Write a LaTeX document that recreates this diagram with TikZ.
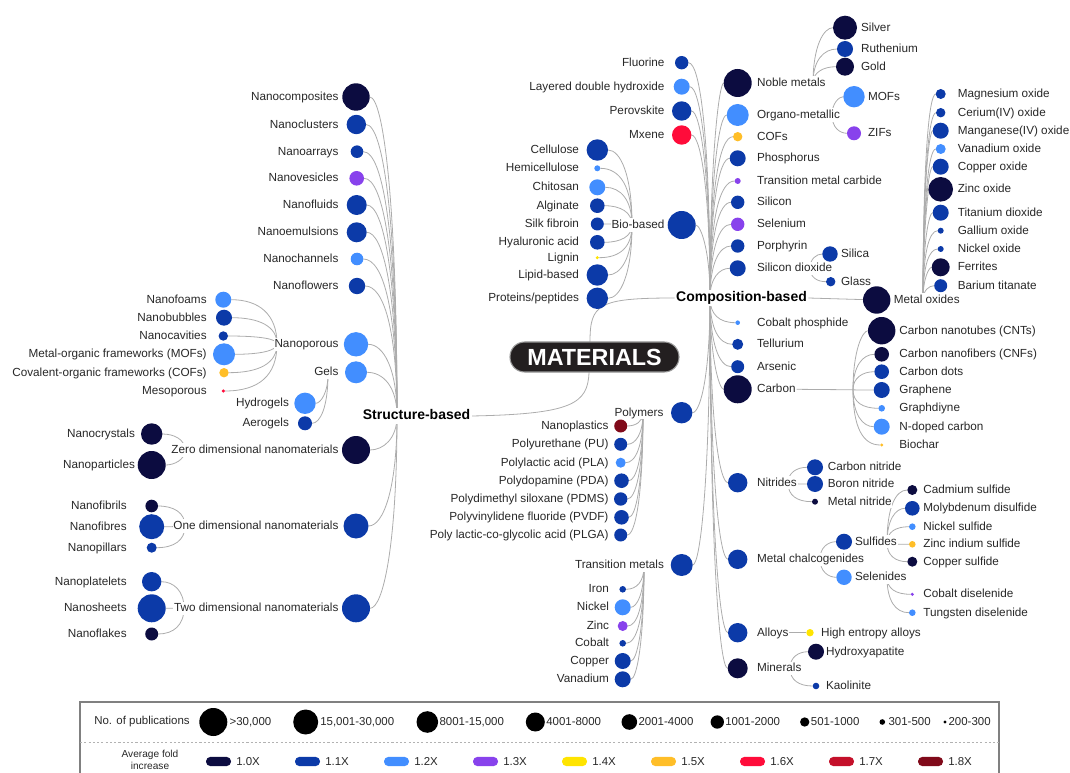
\documentclass[tikz,border=0pt]{standalone}
\usepackage{fontspec}
\setmainfont{Liberation Sans}
\usetikzlibrary{calc,backgrounds}

% fold-increase palette
\definecolor{c10}{RGB}{12,12,64}
\definecolor{c11}{RGB}{12,58,168}
\definecolor{c12}{RGB}{66,142,255}
\definecolor{c13}{RGB}{136,66,236}
\definecolor{c14}{RGB}{255,228,0}
\definecolor{c15}{RGB}{255,190,40}
\definecolor{c16}{RGB}{255,12,58}
\definecolor{c17}{RGB}{196,16,42}
\definecolor{c18}{RGB}{128,10,26}
\definecolor{linkgray}{RGB}{172,172,172}
\definecolor{ink}{RGB}{40,40,40}

\tikzset{
  dot/.style={circle, inner sep=0pt, outer sep=0pt, draw=none},
  lbl/.style={font=\fontsize{8.8}{10}\selectfont, text=ink, fill=white, inner sep=0.6pt, text height=7pt, text depth=1.6pt},
  head/.style={font=\bfseries\fontsize{10.5}{12}\selectfont, text=black, fill=white, inner sep=1pt, text height=7.6pt, text depth=2pt},
  link/.style={draw=linkgray, line width=0.6pt},
  legtxt/.style={font=\fontsize{8.6}{10}\selectfont, text=ink, inner sep=0pt, anchor=west},
  pill/.style={rectangle, rounded corners=3.3pt, minimum width=18.75pt, minimum height=6.9pt, inner sep=0pt},
}

% leaf with label on the left / on the right
\newcommand\leafL[7]{%
  \node[dot, fill=#5, minimum size={1.5pt*#4}] (#1) at (#2,#3) {};
  \node[lbl, anchor=east] (#1-t) at (#7,#3) {#6};}
\newcommand\leafR[7]{%
  \node[dot, fill=#5, minimum size={1.5pt*#4}] (#1) at (#2,#3) {};
  \node[lbl, anchor=west] (#1-t) at (#7,#3) {#6};}
% curved link from a leaf to its hub (quadratic through the corner)
\newcommand\linkto[2]{\draw[link] (#1) .. controls ($(#1)!0.6667!(#1 -| #2)$) and ($(#2)!0.6667!(#1 -| #2)$) .. (#2);}

\begin{document}
\begin{tikzpicture}[x=0.75pt,y=-0.75pt]
\useasboundingbox (0,0) rectangle (1070,773);

% ---------------- hubs ----------------
\coordinate (hS) at (397,416);
\coordinate (hC) at (710,298);
\coordinate (hPoro) at (277,344);
\coordinate (hGels) at (328,374);
\coordinate (hZero) at (185,450);
\coordinate (hOne) at (185,526);
\coordinate (hTwo) at (184,608);
\coordinate (hBio) at (632,225);
\coordinate (hPoly) at (643,413);
\coordinate (hTrans) at (644,566);
\coordinate (hNoble) at (813,83);
\coordinate (hOrg) at (832,115);
\coordinate (hSiO) at (810,268);
\coordinate (hMox) at (923,300);
\coordinate (hCarb) at (853,389.8);
\coordinate (hNitr) at (788,483);
\coordinate (hChalc) at (820,559);
\coordinate (hSulf) at (887,543);
\coordinate (hSel) at (887,577);
\coordinate (hMin) at (790,668);

% ---------------- structure-based branch ----------------
\leafL{ncomp}{356}{97}{13.7}{c10}{Nanocomposites}{339.5}
\leafL{nclus}{356.3}{124.5}{9.7}{c11}{Nanoclusters}{339.5}
\leafL{narr}{357}{151.7}{6.3}{c11}{Nanoarrays}{339.5}
\leafL{nves}{356.7}{178.3}{7.3}{c13}{Nanovesicles}{339.5}
\leafL{nflu}{356.7}{205}{10}{c11}{Nanofluids}{339.5}
\leafL{nemu}{356.7}{232.3}{10}{c11}{Nanoemulsions}{339.5}
\leafL{nchan}{357}{259}{6.3}{c12}{Nanochannels}{339.5}
\leafL{nflow}{357}{286}{8.2}{c11}{Nanoflowers}{339.5}
\leafL{nporo}{356}{344.3}{12.2}{c12}{Nanoporous}{339.5}
\leafL{gels}{356}{372.3}{11}{c12}{Gels}{339.5}
\leafL{zero}{356}{450}{14}{c10}{Zero dimensional nanomaterials}{339.5}
\leafL{one}{356}{526}{12.5}{c11}{One dimensional nanomaterials}{339.5}
\leafL{two}{356}{608.3}{14}{c11}{Two dimensional nanomaterials}{339.5}

\leafL{nfoam}{223.3}{299.7}{8}{c12}{Nanofoams}{207.7}
\leafL{nbub}{224}{317.7}{8}{c11}{Nanobubbles}{207.7}
\leafL{ncav}{223.3}{336}{4.7}{c11}{Nanocavities}{207.7}
\leafL{smof}{224}{354.3}{11}{c12}{Metal-organic frameworks (MOFs)}{207.7}
\leafL{scof}{224}{372.7}{4.7}{c15}{Covalent-organic frameworks (COFs)}{207.7}
\leafL{meso}{223.3}{391}{1.7}{c16}{Mesoporous}{207.7}

\leafL{hydro}{305}{403.3}{10.7}{c12}{Hydrogels}{290}
\leafL{aero}{305}{423.3}{7}{c11}{Aerogels}{290}

\leafL{ncrys}{151.7}{434}{10.7}{c10}{Nanocrystals}{136}
\leafL{npart}{151.7}{465}{14}{c10}{Nanoparticles}{136}
\leafL{nfibril}{151.7}{506}{6.3}{c10}{Nanofibrils}{127.7}
\leafL{nfibre}{151.7}{526.7}{12.5}{c11}{Nanofibres}{127.7}
\leafL{npill}{151.7}{547.7}{5}{c11}{Nanopillars}{127.7}
\leafL{nplat}{151.7}{581.7}{9.7}{c11}{Nanoplatelets}{127.7}
\leafL{nsheet}{151.7}{608.3}{14}{c11}{Nanosheets}{127.7}
\leafL{nflake}{151.7}{634}{6.5}{c10}{Nanoflakes}{127.7}

% ---------------- composition-based branch ----------------
\leafL{fluor}{681.7}{62.7}{6.7}{c11}{Fluorine}{665.5}
\leafL{ldh}{681.7}{86.7}{8}{c12}{Layered double hydroxide}{665.5}
\leafL{perov}{681.7}{111}{9.7}{c11}{Perovskite}{665.5}
\leafL{mxene}{681.7}{135}{9.7}{c16}{Mxene}{665.5}
\leafL{bio}{681.7}{225}{14}{c11}{Bio-based}{665.5}

\leafL{cell}{597.3}{150}{10.7}{c11}{Cellulose}{580}
\leafL{hemi}{597.3}{168.3}{3}{c12}{Hemicellulose}{580}
\leafL{chit}{597.3}{187.3}{8}{c12}{Chitosan}{580}
\leafL{algi}{597.3}{205.7}{7.3}{c11}{Alginate}{580}
\leafL{silk}{597.3}{224}{6.5}{c11}{Silk fibroin}{580}
\leafL{hyal}{597.3}{242.3}{7.3}{c11}{Hyaluronic acid}{580}
\leafL{lign}{597.3}{257.7}{1.7}{c14}{Lignin}{580}
\leafL{lipid}{597.3}{275}{10.7}{c11}{Lipid-based}{580}
\leafL{prot}{597.3}{298.3}{10.7}{c11}{Proteins/peptides}{580}

\leafL{poly}{681.7}{412.7}{10.7}{c11}{Polymers}{664.5}
\leafL{nplas}{620.7}{426}{6.5}{c18}{Nanoplastics}{609.5}
\leafL{pu}{620.7}{444.3}{6.5}{c11}{Polyurethane (PU)}{609.5}
\leafL{pla}{620.7}{462.7}{5}{c12}{Polylactic acid (PLA)}{609.5}
\leafL{pda}{621.5}{480.7}{7.3}{c11}{Polydopamine (PDA)}{609.5}
\leafL{pdms}{620.7}{499}{6.7}{c11}{Polydimethyl siloxane (PDMS)}{609.5}
\leafL{pvdf}{621.5}{517.3}{7.3}{c11}{Polyvinylidene fluoride (PVDF)}{609.5}
\leafL{plga}{620.7}{535}{6.5}{c11}{Poly lactic-co-glycolic acid (PLGA)}{609.5}

\leafL{trans}{681.7}{565}{11}{c11}{Transition metals}{665}
\leafL{iron}{622.7}{589.3}{3.3}{c11}{Iron}{610}
\leafL{nick}{622.7}{607.3}{8}{c12}{Nickel}{610}
\leafL{zinc}{622.7}{626}{5}{c13}{Zinc}{610}
\leafL{cobalt}{622.7}{643.3}{3.3}{c11}{Cobalt}{610}
\leafL{copper}{622.7}{661}{8}{c11}{Copper}{610}
\leafL{vanad}{622.7}{679.3}{8}{c11}{Vanadium}{610}

\leafR{noble}{737.7}{83}{14}{c10}{Noble metals}{756}
\leafR{organo}{737.7}{115}{11}{c12}{Organo-metallic}{756}
\leafR{ccof}{737.7}{136.7}{4.7}{c15}{COFs}{756}
\leafR{phos}{737.7}{158.3}{8}{c11}{Phosphorus}{756}
\leafR{tmc}{737.7}{181}{3}{c13}{Transition metal carbide}{756}
\leafR{silic}{737.7}{202.3}{6.7}{c11}{Silicon}{756}
\leafR{selen}{737.7}{224.3}{6.7}{c13}{Selenium}{756}
\leafR{porph}{737.7}{246}{6.7}{c11}{Porphyrin}{756}
\leafR{sio}{737.7}{268.3}{8}{c11}{Silicon dioxide}{756}
\leafR{cophos}{737.7}{322.7}{2.3}{c12}{Cobalt phosphide}{756}
\leafR{tell}{737.7}{344.3}{5.5}{c11}{Tellurium}{756}
\leafR{arsen}{737.7}{366.7}{6.5}{c11}{Arsenic}{756}
\leafR{carbon}{737.7}{389.3}{14}{c10}{Carbon}{756}
\leafR{nitr}{737.7}{482.7}{9.7}{c11}{Nitrides}{756}
\leafR{chalc}{737.7}{559.3}{9.7}{c11}{Metal chalcogenides}{756}
\leafR{alloy}{737.7}{632.7}{9.7}{c11}{Alloys}{756}
\leafR{miner}{737.7}{668.3}{10}{c10}{Minerals}{756}

\leafR{silver}{845}{27.7}{12}{c10}{Silver}{860}
\leafR{ruth}{845}{49}{8}{c11}{Ruthenium}{860}
\leafR{gold}{845}{66.7}{9}{c10}{Gold}{860}
\leafR{mofs}{854}{96.7}{10.7}{c12}{MOFs}{867}
\leafR{zifs}{854}{133.3}{7}{c13}{ZIFs}{867}
\leafR{silica}{830}{254}{7.7}{c11}{Silica}{840}
\leafR{glass}{830.7}{281.7}{4.7}{c11}{Glass}{840}

\leafR{mox}{876.7}{300}{13.7}{c10}{Metal oxides}{892.7}
\leafR{mgo}{940.7}{94}{5}{c11}{Magnesium oxide}{956.7}
\leafR{ceo}{940.7}{112.7}{4.7}{c11}{Cerium(IV) oxide}{956.7}
\leafR{mno}{940.7}{130.7}{8}{c11}{Manganese(IV) oxide}{956.7}
\leafR{vox}{940.7}{149}{5}{c12}{Vanadium oxide}{956.7}
\leafR{cuo}{940.7}{166.7}{8}{c11}{Copper oxide}{956.7}
\leafR{zno}{940.7}{189.3}{12.3}{c10}{Zinc oxide}{956.7}
\leafR{tio}{940.7}{212.7}{8}{c11}{Titanium dioxide}{956.7}
\leafR{gao}{940.7}{230.7}{3}{c11}{Gallium oxide}{956.7}
\leafR{nio}{940.7}{249}{3}{c11}{Nickel oxide}{956.7}
\leafR{ferr}{940.7}{267.3}{9}{c10}{Ferrites}{956.7}
\leafR{bati}{940.7}{285.7}{6.5}{c11}{Barium titanate}{956.7}

\leafR{cnt}{881.7}{330.7}{13.7}{c10}{Carbon nanotubes (CNTs)}{898.3}
\leafR{cnf}{881.7}{354.3}{7.3}{c10}{Carbon nanofibers (CNFs)}{898.3}
\leafR{cdot}{881.7}{371.7}{7.3}{c11}{Carbon dots}{898.3}
\leafR{graph}{881.7}{390}{8}{c11}{Graphene}{898.3}
\leafR{gdy}{881.7}{408.3}{3.3}{c12}{Graphdiyne}{898.3}
\leafR{ndc}{881.7}{426.7}{8}{c12}{N-doped carbon}{898.3}
\leafR{biochar}{881.7}{445}{1.7}{c15}{Biochar}{898.3}

\leafR{cn}{815}{467.3}{8}{c11}{Carbon nitride}{826.7}
\leafR{bn}{815}{484}{8}{c11}{Boron nitride}{826.7}
\leafR{mn}{815}{501.7}{3}{c10}{Metal nitride}{826.7}

\leafR{sulf}{844}{541.7}{8}{c11}{Sulfides}{854}
\leafR{selen2}{844}{577.3}{7.7}{c12}{Selenides}{854}
\leafR{cds}{912.3}{490}{5}{c10}{Cadmium sulfide}{922.3}
\leafR{mos}{912.3}{508.3}{7.3}{c11}{Molybdenum disulfide}{922.3}
\leafR{nis}{912.3}{526.7}{3.3}{c12}{Nickel sulfide}{922.3}
\leafR{zis}{912.3}{544.3}{3.3}{c15}{Zinc indium sulfide}{922.3}
\leafR{cus}{912.3}{561.7}{5}{c10}{Copper sulfide}{922.3}
\leafR{cose}{912.3}{594.3}{1.7}{c13}{Cobalt diselenide}{922.3}
\leafR{wse}{912.3}{612.7}{3.3}{c12}{Tungsten diselenide}{922.3}

\leafR{hea}{810}{632.7}{3.7}{c14}{High entropy alloys}{820}
\leafR{hap}{816}{651.7}{8}{c10}{Hydroxyapatite}{825}
\leafR{kaol}{816}{686}{3.3}{c11}{Kaolinite}{825}

% ---------------- main headings ----------------
\node[head] (sb) at (416.5,416) {Structure-based};
\node[head] (cb) at (741.5,298) {Composition-based};
\node[fill={rgb,255:red,35;green,31;blue,32}, draw=black!40, line width=0.8pt,
      rounded corners=11pt, minimum width=126.75pt, minimum height=22.5pt,
      text=white, font=\bfseries\fontsize{17.5}{20}\selectfont, inner sep=0pt] (mat) at (594.5,357) {MATERIALS};

% ---------------- links ----------------
\begin{scope}[on background layer]
  \draw[link] (sb.east) .. controls (572,414) and (588,404) .. (589,372)
              -- (590,342) .. controls (590,304) and (598,298) .. (cb.west);
  \foreach \c in {ncomp,nclus,narr,nves,nflu,nemu,nchan,nflow,nporo,gels,zero,one,two} {\linkto{\c}{hS}}
  \foreach \c in {nfoam,nbub,ncav,smof,scof,meso} {\linkto{\c}{hPoro}}
  \foreach \c in {hydro,aero} {\linkto{\c}{hGels}}
  \foreach \c in {ncrys,npart} {\linkto{\c}{hZero}}
  \foreach \c in {nfibril,nfibre,npill} {\linkto{\c}{hOne}}
  \foreach \c in {nplat,nsheet,nflake} {\linkto{\c}{hTwo}}
  \foreach \c in {fluor,ldh,perov,mxene,bio,noble,organo,ccof,phos,tmc,silic,selen,porph,sio,
                  cophos,tell,arsen,carbon,poly,nitr,trans,chalc,alloy,miner} {\linkto{\c}{hC}}
  \foreach \c in {cell,hemi,chit,algi,silk,hyal,lign,lipid,prot} {\linkto{\c}{hBio}}
  \foreach \c in {nplas,pu,pla,pda,pdms,pvdf,plga} {\linkto{\c}{hPoly}}
  \foreach \c in {iron,nick,zinc,cobalt,copper,vanad} {\linkto{\c}{hTrans}}
  \foreach \c in {silver,ruth,gold} {\linkto{\c}{hNoble}}
  \foreach \c in {mofs,zifs} {\linkto{\c}{hOrg}}
  \foreach \c in {silica,glass} {\linkto{\c}{hSiO}}
  \foreach \c in {mgo,ceo,mno,vox,cuo,zno,tio,gao,nio,ferr,bati} {\linkto{\c}{hMox}}
  \foreach \c in {cnt,cnf,cdot,graph,gdy,ndc,biochar} {\linkto{\c}{hCarb}}
  \foreach \c in {cn,bn,mn} {\linkto{\c}{hNitr}}
  \foreach \c in {sulf,selen2} {\linkto{\c}{hChalc}}
  \foreach \c in {cds,mos,nis,zis,cus} {\linkto{\c}{hSulf}}
  \foreach \c in {cose,wse} {\linkto{\c}{hSel}}
  \foreach \c in {hap,kaol} {\linkto{\c}{hMin}}
  \draw[link] (carbon-t.east) -- (hCarb);
  \draw[link] (alloy-t.east) -- (hea);
  \draw[link] (cb.east) -- (mox);
\end{scope}

% ---------------- legend ----------------
\draw[black!50, line width=0.9pt] (80,778) -- (80,702) -- (999,702) -- (999,778);
\draw[black!30, line width=0.5pt, dash pattern=on 1.6pt off 1.6pt] (80,742) -- (999,742);

\node[font=\fontsize{8.6}{10}\selectfont, text=ink, inner sep=0pt, anchor=east] (lgA) at (190,722) {No. of publications};
\node[font=\fontsize{7.6}{9}\selectfont, text=ink, inner sep=0pt, align=center] (lgB) at (150,759.5) {Average fold\\increase};

\node[dot, fill=black, minimum size=21pt]    (s1) at (213.3,722) {};
\node[legtxt] (s1t) at (229.3,722) {\textgreater 30,000};
\node[dot, fill=black, minimum size=18.75pt] (s2) at (305.7,722) {};
\node[legtxt] (s2t) at (320,722) {15,001-30,000};
\node[dot, fill=black, minimum size=16.2pt]  (s3) at (427.3,722) {};
\node[legtxt] (s3t) at (439.3,722) {8001-15,000};
\node[dot, fill=black, minimum size=14.25pt] (s4) at (535.3,722) {};
\node[legtxt] (s4t) at (546,722) {4001-8000};
\node[dot, fill=black, minimum size=11.7pt]  (s5) at (629.3,722) {};
\node[legtxt] (s5t) at (638.3,722) {2001-4000};
\node[dot, fill=black, minimum size=10pt]    (s6) at (717.3,722) {};
\node[legtxt] (s6t) at (725,722) {1001-2000};
\node[dot, fill=black, minimum size=7pt]     (s7) at (804.7,722) {};
\node[legtxt] (s7t) at (810.7,722) {501-1000};
\node[dot, fill=black, minimum size=4.2pt]   (s8) at (882.3,722) {};
\node[legtxt] (s8t) at (888.3,722) {301-500};
\node[dot, fill=black, minimum size=2.5pt]   (s9) at (945,722) {};
\node[legtxt] (s9t) at (948.3,722) {200-300};

\foreach \col/\lab [count=\i from 0] in {c10/1.0X,c11/1.1X,c12/1.2X,c13/1.3X,c14/1.4X,c15/1.5X,c16/1.6X,c17/1.7X,c18/1.8X} {
  \node[pill, fill=\col] (f\i) at ({218.5+89*\i},761.5) {};
  \node[legtxt] (f\i t) at ({236+89*\i},761.5) {\lab};
}
\end{tikzpicture}
\end{document}
